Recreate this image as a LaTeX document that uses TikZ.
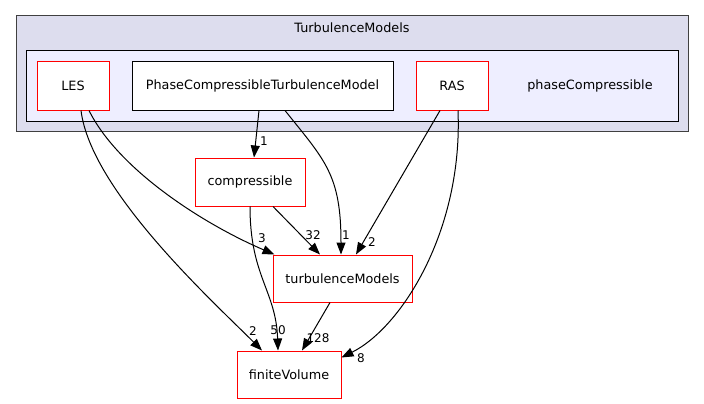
\documentclass[tikz,border=0pt]{standalone}
\usepackage{fontspec}
\setmainfont{DejaVu Sans}
\usetikzlibrary{arrows.meta,positioning,calc}
\definecolor{outerfill}{HTML}{DDDDEE}
\definecolor{innerfill}{HTML}{EEEEFF}
\definecolor{outerline}{HTML}{404040}

\begin{document}
\begin{tikzpicture}[x=1pt,y=-1pt,
    dir/.style={draw=red,fill=white,line width=1pt,minimum height=48pt,inner sep=0pt,font=\fontsize{12.8}{15}\selectfont},
    lbl/.style={inner sep=0pt,font=\fontsize{12}{14}\selectfont},
    arrow/.style={line width=1pt,-{Triangle[length=12pt,width=9pt]}}]
    \useasboundingbox (0,0) rectangle (704,404);
    % clusters
    \draw[fill=outerfill,draw=outerline,line width=1pt] (16,16) rectangle (688,131);
    \node[font=\fontsize{12.8}{15}\selectfont] (turb) at (352,28) {TurbulenceModels};
    \draw[fill=innerfill,draw=black,line width=1pt] (26,51) rectangle (678,121);
    \node[font=\fontsize{12.8}{15}\selectfont] (phase) at (590,86) {phaseCompressible};
    % directories
    \node[dir,minimum width=72pt] (les) at (73,86) {LES};
    \node[dir,draw=black,minimum width=261pt] (pctm) at (262.5,86) {PhaseCompressibleTurbulenceModel};
    \node[dir,minimum width=72pt] (ras) at (452,86) {RAS};
    \node[dir,minimum width=110pt] (comp) at (250,182) {compressible};
    \node[dir,minimum width=139pt,minimum height=47pt] (tm) at (342.5,278.5) {turbulenceModels};
    \node[dir,minimum width=104pt,minimum height=47pt] (fv) at (289,374.5) {finiteVolume};
    % dependencies
    \draw[arrow] ([xshift=8pt]les.south) .. controls +(10,80) and +(-50,-50) .. ([xshift=-27pt]fv.north);
    \draw[arrow] ([xshift=16pt]les.south) .. controls +(30,60) and +(-70,-30) .. ([xshift=2pt]tm.north west);
    \draw[arrow] ([xshift=-3.5pt]pctm.south) -- ([xshift=4pt]comp.north);
    \draw[arrow] ([xshift=22.5pt]pctm.south) .. controls +(40,50) and +(0,-80) .. ([xshift=-1.5pt]tm.north);
    \draw[arrow] ([xshift=-12pt]ras.south) -- ([xshift=13.5pt]tm.north);
    \draw[arrow] ([xshift=6pt]ras.south) .. controls +(5,120) and +(60,-30) .. ($(fv.north east)+(0,7)$);
    \draw[arrow] ([xshift=23pt]comp.south) -- ([xshift=-22.5pt]tm.north);
    \draw[arrow] (comp.south) .. controls +(0,70) and +(-2,-60) .. ([xshift=-11pt]fv.north);
    \draw[arrow] ([xshift=-12.5pt]tm.south) -- ([xshift=13pt]fv.north);
    % counts
    \node[lbl] (l1) at (253,331) {2};
    \node[lbl] (l2) at (262,238) {3};
    \node[lbl] (l3) at (264,141) {1};
    \node[lbl] (l4) at (346,235) {1};
    \node[lbl] (l5) at (372,242) {2};
    \node[lbl] (l6) at (361,358) {8};
    \node[lbl] (l7) at (313,235) {32};
    \node[lbl] (l8) at (278,330) {50};
    \node[lbl] (l9) at (318,338) {128};
\end{tikzpicture}
\end{document}
